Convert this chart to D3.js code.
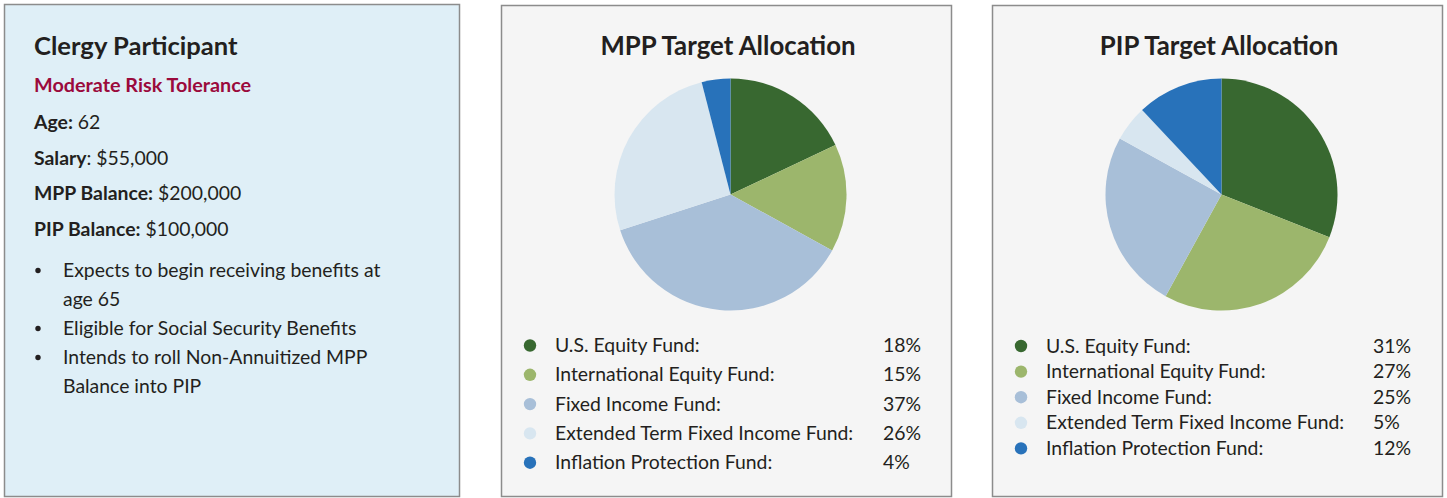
<!DOCTYPE html>
<html>
<head>
<meta charset="utf-8">
<script src="https://cdn.jsdelivr.net/npm/d3@7"></script>
<style>
  body { margin: 0; background: #fff; }
  svg text { font-family: Lato, "Open Sans", sans-serif; fill: #231f20; }
</style>
</head>
<body>
<svg id="chart" width="1447" height="498"></svg>
<script>
// fund names and colours shared by both pies
const funds = [
    "U.S. Equity Fund:",
    "International Equity Fund:",
    "Fixed Income Fund:",
    "Extended Term Fixed Income Fund:",
    "Inflation Protection Fund:"
];
const fundColors = ["#386830", "#9cb66c", "#a8bfd8", "#d8e6f0", "#2872ba"];

const mppValues = [18, 15, 37, 26, 4];
const pipValues = [31, 27, 25, 5, 12];

const profileRows = [
    { label: "Age:", value: " 62" },
    { label: "Salary", value: ": $55,000" },
    { label: "MPP Balance:", value: " $200,000" },
    { label: "PIP Balance:", value: " $100,000" }
];
const bullets = [
    ["Expects to begin receiving benefits at", "age 65"],
    ["Eligible for Social Security Benefits"],
    ["Intends to roll Non-Annuitized MPP", "Balance into PIP"]
];

const svg = d3.select("#chart");
const bodySize = "19.4px";

// --- left panel ---
const left = svg.append("g");
left.append("rect")
    .attr("x", 4.5).attr("y", 4.5)
    .attr("width", 455).attr("height", 492)
    .attr("fill", "#dfeff7")
    .attr("stroke", "#8c8c8c").attr("stroke-width", 1.5);

left.append("text")
    .attr("x", 34).attr("y", 55)
    .style("font-size", "25.6px").style("font-weight", "bold")
    .text("Clergy Participant");

left.append("text")
    .attr("x", 34).attr("y", 92)
    .style("font-size", "19.8px").style("font-weight", "bold")
    .style("fill", "#9b0a3c")
    .text("Moderate Risk Tolerance");

profileRows.forEach((r, i) => {
    const t = left.append("text")
        .attr("x", 34).attr("y", 129 + i * 35.5)
        .style("font-size", bodySize);
    t.append("tspan").style("font-weight", "bold").text(r.label);
    t.append("tspan").text(r.value);
});

let lineY = 277;
bullets.forEach(b => {
    left.append("circle")
        .attr("cx", 38).attr("cy", lineY - 6.5).attr("r", 2.7)
        .attr("fill", "#231f20");
    b.forEach(line => {
        left.append("text")
            .attr("x", 63).attr("y", lineY)
            .style("font-size", bodySize)
            .text(line);
        lineY += 29;
    });
});

// --- pie panels ---
const pie = d3.pie().sort(null).value(d => d);
const arc = d3.arc().innerRadius(0).outerRadius(116);
const color = d3.scaleOrdinal().domain(funds).range(fundColors);

function drawPanel(x0, title, values, legendTop, legendStep, valueX) {
    const g = svg.append("g").attr("transform", `translate(${x0},0)`);
    g.append("rect")
        .attr("x", 0.5).attr("y", 5.5)
        .attr("width", 450).attr("height", 491)
        .attr("fill", "#f5f5f5")
        .attr("stroke", "#8c8c8c").attr("stroke-width", 1.5);

    g.append("text")
        .attr("x", 227).attr("y", 55)
        .attr("text-anchor", "middle")
        .style("font-size", "25.8px").style("font-weight", "bold")
        .text(title);

    const p = g.append("g").attr("transform", "translate(229.5,194.5)");
    p.selectAll("path")
        .data(pie(values))
        .enter()
        .append("path")
        .attr("d", arc)
        .attr("fill", (d, i) => color(funds[i]));

    const leg = g.selectAll(".leg")
        .data(funds)
        .enter()
        .append("g")
        .attr("class", "leg")
        .attr("transform", (d, i) => `translate(0,${legendTop + i * legendStep})`);
    leg.append("circle")
        .attr("cx", 29).attr("cy", 0).attr("r", 6.2)
        .attr("fill", d => color(d));
    leg.append("text")
        .attr("x", 54).attr("y", 6.5)
        .style("font-size", bodySize)
        .text(d => d);
    leg.append("text")
        .attr("x", valueX).attr("y", 6.5)
        .style("font-size", bodySize)
        .text((d, i) => values[i] + "%");
}

drawPanel(501, "MPP Target Allocation", mppValues, 345.5, 29.3, 382);
drawPanel(992, "PIP Target Allocation", pipValues, 346, 25.6, 381);
</script>
</body>
</html>
